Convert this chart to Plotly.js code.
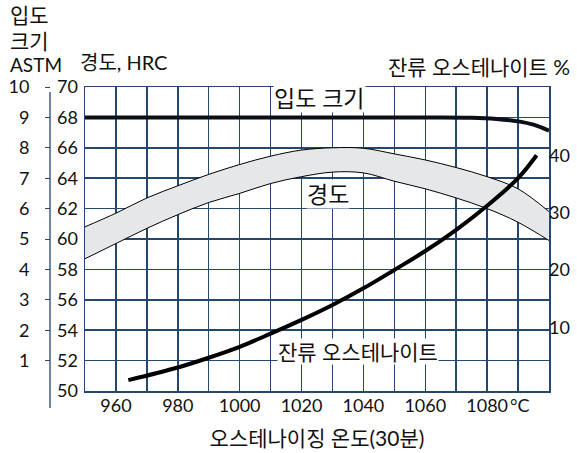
<!DOCTYPE html>
<html>
<head>
<meta charset="utf-8">
<script src="https://cdn.plot.ly/plotly-3.0.1.min.js"></script>
<style>html,body{margin:0;padding:0;background:#fff;}#chart{width:577px;height:453px;}</style>
</head>
<body>
<div id="chart"></div>
<script>
// Temperature (°C) grid for the hardness band
const tempHard = [950, 960, 970, 980, 990, 1000, 1010, 1020, 1030, 1040, 1050, 1060, 1070, 1080, 1090, 1100];
const hardUpper = [60.8, 61.7, 62.7, 63.5, 64.25, 64.9, 65.45, 65.85, 66.0, 65.97, 65.6, 65.2, 64.7, 64.1, 63.3, 61.8];
const hardLower = [58.7, 59.7, 60.7, 61.6, 62.4, 63.0, 63.65, 64.1, 64.4, 64.35, 63.8, 63.3, 62.7, 62.0, 61.1, 59.9];

// Retained austenite (%)
const tempRA = [964, 980, 990, 1000, 1010, 1020, 1030, 1040, 1050, 1060, 1070, 1080, 1090, 1096];
const retainedAust = [0.8, 3.0, 4.7, 6.6, 8.9, 11.3, 13.9, 16.8, 20.0, 23.3, 27.0, 31.2, 36.0, 40.0];

// Grain size (ASTM)
const tempGrain = [950, 1060, 1075, 1083, 1090, 1095, 1100];
const grainSize = [9.0, 9.0, 8.99, 8.95, 8.87, 8.76, 8.56];

// Tick labels
const xTickVals = [960, 980, 1000, 1020, 1040, 1060, 1080];
const xTickText = ['960', '980', '1000', '1020', '1040', '1060', '1080'];
const hrcTicks = [50, 52, 54, 56, 58, 60, 62, 64, 66, 68, 70];
const astmTicks = [1, 2, 3, 4, 5, 6, 7, 8, 9, 10];
const raTicks = [10, 20, 30, 40];

const NAVY = '#24466f';
const FONT = 'Lato, "Noto Sans CJK KR", sans-serif';
const TXT = '#111111';

const traces = [
  {x: tempHard, y: hardLower, type: 'scatter', mode: 'lines', line: {color: '#000', width: 1, shape: 'spline'}, hoverinfo: 'skip', showlegend: false},
  {x: tempHard, y: hardUpper, type: 'scatter', mode: 'lines', fill: 'tonexty', fillcolor: '#e6e7e9', line: {color: '#000', width: 1, shape: 'spline'}, showlegend: false},
  {x: tempRA, y: retainedAust, yaxis: 'y2', type: 'scatter', mode: 'lines', line: {color: '#000', width: 4, shape: 'spline'}, showlegend: false},
  {x: tempGrain, y: grainSize, yaxis: 'y3', type: 'scatter', mode: 'lines', line: {color: '#0a0f18', width: 4, shape: 'spline'}, showlegend: false}
];

const W = 577, H = 453;
const PT = 87, PB = 391;
function py(px) { return (PB - px) / (PB - PT); }

const layout = {
  width: W, height: H,
  margin: {l: 0, r: 0, t: PT, b: H - PB, pad: 0},
  paper_bgcolor: '#fff', plot_bgcolor: '#fff',
  font: {family: FONT, size: 18, color: TXT},
  showlegend: false,
  xaxis: {
    domain: [85 / W, 549 / W],
    range: [950, 1100],
    tickmode: 'array', tickvals: xTickVals, ticktext: xTickText,
    showgrid: true, gridcolor: NAVY, gridwidth: 1.5,
    minor: {tick0: 950, dtick: 10, showgrid: true, gridcolor: NAVY, gridwidth: 1.5, ticks: ''},
    showline: true, linecolor: NAVY, linewidth: 1.5, mirror: true,
    zeroline: false, ticks: '', ticklabelstandoff: -2,
    tickfont: {size: 18, family: FONT, color: TXT},
    automargin: false,
    title: {text: '오스테나이징 온도(30분)', font: {size: 21, family: FONT, color: TXT}, standoff: 16}
  },
  yaxis: {
    range: [50, 70],
    tickmode: 'array', tickvals: hrcTicks,
    showgrid: true, gridcolor: NAVY, gridwidth: 1.5,
    showline: true, linecolor: NAVY, linewidth: 1.5, mirror: true,
    zeroline: false, ticks: '', ticklabelstandoff: 2,
    tickfont: {size: 18, family: FONT, color: TXT},
    automargin: false
  },
  yaxis2: {
    overlaying: 'y', side: 'right', anchor: 'x',
    range: [-1.1, 51.9],
    tickmode: 'array', tickvals: raTicks,
    showgrid: false, showline: false, zeroline: false, ticks: '',
    ticklabelstandoff: -1,
    tickfont: {size: 18, family: FONT, color: TXT},
    automargin: false
  },
  yaxis3: {
    overlaying: 'y', side: 'left', anchor: 'free', position: 50 / W,
    range: [0, 10],
    tickmode: 'array', tickvals: astmTicks,
    showgrid: false, showline: false, zeroline: false,
    ticks: 'outside', ticklen: 5, tickcolor: NAVY, tickwidth: 1,
    ticklabelstandoff: 12,
    tickfont: {size: 18, family: FONT, color: TXT},
    automargin: false
  },
  shapes: [
    {type: 'line', xref: 'paper', yref: 'paper', x0: 50 / W, x1: 50 / W,
     y0: py(408), y1: py(92),
     line: {color: NAVY, width: 1.3}}
  ],
  annotations: [
    {text: '입도 크기', x: 1025.8, y: 69.25, xref: 'x', yref: 'y', showarrow: false, bgcolor: '#fff', font: {size: 23, family: FONT, color: TXT}, borderpad: 0},
    {text: '경도', x: 1028.4, y: 62.95, xref: 'x', yref: 'y', showarrow: false, bgcolor: '#fff', font: {size: 23, family: FONT, color: TXT}, borderpad: 0},
    {text: '잔류 오스테나이트', x: 1038.4, y: 52.6, xref: 'x', yref: 'y', showarrow: false, bgcolor: '#fff', font: {size: 21, family: FONT, color: TXT}, borderpad: 0},
    {text: '°C', x: 1086.7, y: 0, xref: 'x', yref: 'paper', xanchor: 'left', yanchor: 'top', yshift: -1, showarrow: false, font: {size: 18, family: FONT, color: TXT}},
    {text: '입도', x: 8 / W, y: py(15), xref: 'paper', yref: 'paper', xanchor: 'left', yanchor: 'middle', showarrow: false, font: {size: 21, family: FONT, color: TXT}},
    {text: '크기', x: 8 / W, y: py(40), xref: 'paper', yref: 'paper', xanchor: 'left', yanchor: 'middle', showarrow: false, font: {size: 21, family: FONT, color: TXT}},
    {text: 'ASTM', x: 8 / W, y: py(64), xref: 'paper', yref: 'paper', xanchor: 'left', yanchor: 'middle', showarrow: false, font: {size: 19, family: FONT, color: TXT}},
    {text: '경도, HRC', x: 78 / W, y: py(62), xref: 'paper', yref: 'paper', xanchor: 'left', yanchor: 'middle', showarrow: false, font: {size: 20, family: FONT, color: TXT}},
    {text: '잔류 오스테나이트 %', x: 572 / W, y: py(67), xref: 'paper', yref: 'paper', xanchor: 'right', yanchor: 'middle', showarrow: false, font: {size: 21, family: FONT, color: TXT}}
  ]
};

Plotly.newPlot('chart', traces, layout, {displayModeBar: false, staticPlot: true});
</script>
</body>
</html>
